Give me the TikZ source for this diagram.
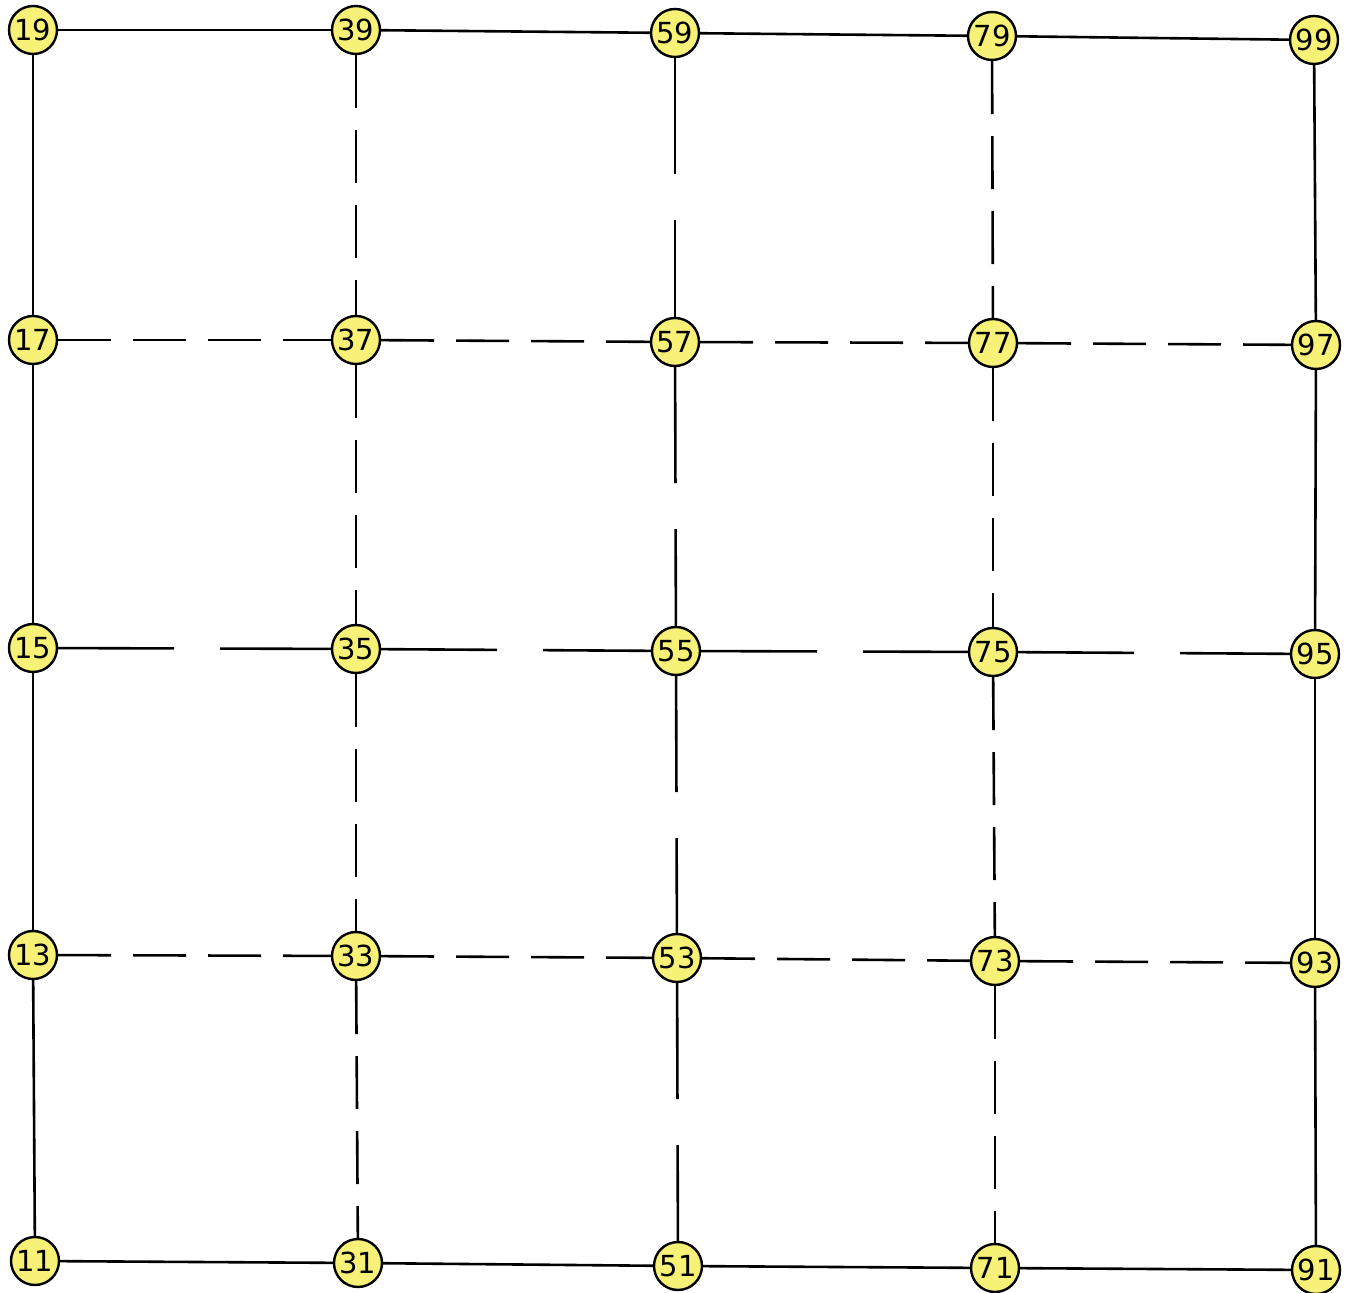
\documentclass[tikz,border=0pt]{standalone}
\usepackage{fontspec}
\setmainfont{DejaVu Sans}
\definecolor{nodeyellow}{RGB}{247,241,120}
\tikzset{
  vtx/.style={circle, draw=black, line width=1.2pt, fill=nodeyellow, inner sep=0pt,
              minimum size=24pt, font=\fontsize{14.5}{15}\selectfont},
  solidedge/.style={line width=1.3pt},
  dashedge/.style={line width=1.3pt, dash pattern=on 26.5pt off 11pt},
  gapedge/.style={line width=1.3pt, dash pattern=on 58pt off 23pt},
}
\begin{document}
\begin{tikzpicture}[x=0.5pt,y=-0.5pt]
\useasboundingbox (0,0) rectangle (1350,1293);
% nodes
\node[vtx] (n19) at (33,30) {19};
\node[vtx] (n39) at (356,30) {39};
\node[vtx] (n59) at (675,33) {59};
\node[vtx] (n79) at (992,36) {79};
\node[vtx] (n99) at (1314,40) {99};
\node[vtx] (n17) at (33,340) {17};
\node[vtx] (n37) at (356,340) {37};
\node[vtx] (n57) at (675,342) {57};
\node[vtx] (n77) at (993,343) {77};
\node[vtx] (n97) at (1316,345) {97};
\node[vtx] (n15) at (33,648) {15};
\node[vtx] (n35) at (356,649) {35};
\node[vtx] (n55) at (676,651) {55};
\node[vtx] (n75) at (993,652) {75};
\node[vtx] (n95) at (1315,654) {95};
\node[vtx] (n13) at (33,955) {13};
\node[vtx] (n33) at (356,956) {33};
\node[vtx] (n53) at (677,958) {53};
\node[vtx] (n73) at (995,961) {73};
\node[vtx] (n93) at (1315,963) {93};
\node[vtx] (n11) at (35,1261) {11};
\node[vtx] (n31) at (358,1263) {31};
\node[vtx] (n51) at (678,1266) {51};
\node[vtx] (n71) at (995,1268) {71};
\node[vtx] (n91) at (1316,1270) {91};
% rows
\draw[solidedge] (n19) -- (n39); \draw[solidedge] (n39) -- (n59);
\draw[solidedge] (n59) -- (n79); \draw[solidedge] (n79) -- (n99);
\draw[dashedge] (n17) -- (n37); \draw[dashedge] (n37) -- (n57);
\draw[dashedge] (n57) -- (n77); \draw[dashedge] (n77) -- (n97);
\draw[gapedge] (n15) -- (n35); \draw[gapedge] (n35) -- (n55);
\draw[gapedge] (n55) -- (n75); \draw[gapedge] (n75) -- (n95);
\draw[dashedge] (n13) -- (n33); \draw[dashedge] (n33) -- (n53);
\draw[dashedge] (n53) -- (n73); \draw[dashedge] (n73) -- (n93);
\draw[solidedge] (n11) -- (n31); \draw[solidedge] (n31) -- (n51);
\draw[solidedge] (n51) -- (n71); \draw[solidedge] (n71) -- (n91);
% columns
\draw[solidedge] (n19) -- (n17); \draw[solidedge] (n17) -- (n15);
\draw[solidedge] (n15) -- (n13); \draw[solidedge] (n13) -- (n11);
\draw[dashedge] (n39) -- (n37); \draw[dashedge] (n37) -- (n35);
\draw[dashedge] (n35) -- (n33); \draw[dashedge] (n33) -- (n31);
\draw[gapedge] (n59) -- (n57); \draw[gapedge] (n57) -- (n55);
\draw[gapedge] (n55) -- (n53); \draw[gapedge] (n53) -- (n51);
\draw[dashedge] (n79) -- (n77); \draw[dashedge] (n77) -- (n75);
\draw[dashedge] (n75) -- (n73); \draw[dashedge] (n73) -- (n71);
\draw[solidedge] (n99) -- (n97); \draw[solidedge] (n97) -- (n95);
\draw[solidedge] (n95) -- (n93); \draw[solidedge] (n93) -- (n91);
\end{tikzpicture}
\end{document}
